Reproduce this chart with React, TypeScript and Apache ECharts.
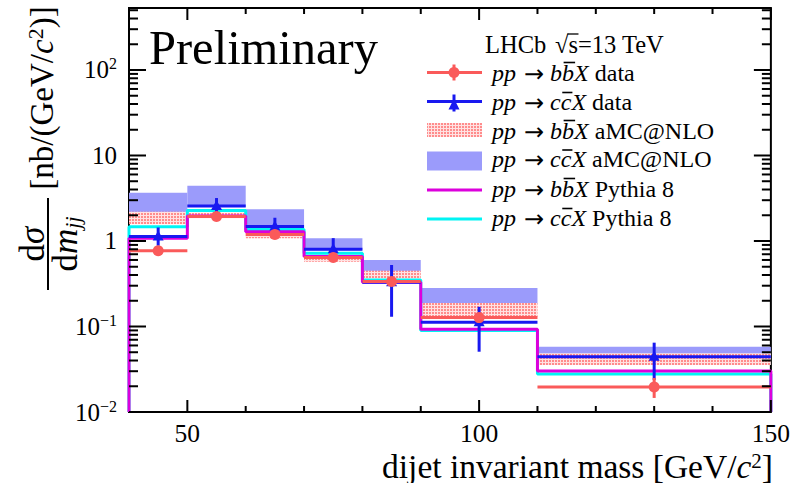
import React, { useEffect, useRef } from 'react';
import * as echarts from 'echarts';

const FONT = '"Liberation Serif", "Times New Roman", Times, serif';
const ARROW_FONT = '"DejaVu Sans", sans-serif';

// bin edges of the dijet invariant mass [GeV/c^2]
const binEdges = [40, 50, 60, 70, 80, 90, 110, 150];
// pp -> b bbar X data (central, low, high)
const bbData = [0.77, 1.94, 1.19, 0.64, 0.336, 0.127, 0.0196];
const bbDataLo = [0.71, 1.8, 1.1, 0.59, 0.3, 0.117, 0.0146];
const bbDataHi = [0.84, 2.1, 1.3, 0.7, 0.37, 0.138, 0.025];
// pp -> c cbar X data
const ccData = [1.13, 2.57, 1.48, 0.8, 0.33, 0.112, 0.0443];
const ccDataLo = [0.88, 2.1, 1.2, 0.62, 0.13, 0.0507, 0.0237];
const ccDataHi = [1.44, 3.18, 1.87, 1.08, 0.524, 0.17, 0.0647];
// aMC@NLO bands
const bbAmcLo = [1.57, 1.85, 1.08, 0.57, 0.366, 0.13, 0.0355];
const bbAmcHi = [2.2, 2.15, 1.26, 0.68, 0.45, 0.188, 0.0486];
const ccAmcLo = [2.1, 2.5, 1.45, 0.78, 0.44, 0.185, 0.047];
const ccAmcHi = [3.67, 4.43, 2.35, 1.08, 0.6, 0.282, 0.058];
// Pythia 8
const bbPythia = [1.08, 1.96, 1.28, 0.66, 0.33, 0.0927, 0.0302];
const ccPythia = [1.47, 2.27, 1.36, 0.72, 0.35, 0.09, 0.0278];

// axes
const X_MIN = 40;
const X_MAX = 150;
const Y_MIN = 0.01;
const Y_MAX = 531;
const xLabelValues = [50, 100, 150];
const xMajorTicks = [50, 100, 150];
const xMinorTicks = [60, 70, 80, 90, 110, 120, 130, 140];
const yLabelValues = [0.01, 0.1, 1, 10, 100];
const yLabelTexts = ['{b|10}{s|\u22122}', '{b|10}{s|\u22121}', '{b|1}', '{b|10}', '{b|10}{s|2}'];
const yMinorMantissas = [2, 3, 4, 5, 6, 7, 8, 9];

// legend
const legendQuarks = ['b', 'c', 'b', 'c', 'b', 'c'];
const legendSuffixes = ['data', 'data', 'aMC@NLO', 'aMC@NLO', 'Pythia 8', 'Pythia 8'];

const C_RED = '#fa5a5a';
const C_BLUE = '#1818f0';
const C_BAND = '#9b9bfb';
const C_MAG = '#dc00dc';
const C_CYAN = '#00f4f4';

function measure(font: string, text: string) {
  const c = document.createElement('canvas').getContext('2d')!;
  c.font = font;
  return c.measureText(text).width;
}

function makePattern() {
  const cv = document.createElement('canvas');
  cv.width = 3;
  cv.height = 3;
  const g = cv.getContext('2d')!;
  g.fillStyle = '#ffe2e2';
  g.fillRect(0, 0, 3, 3);
  g.fillStyle = '#ff8c8c';
  g.fillRect(0, 0, 2, 2);
  return { image: cv, repeat: 'repeat', imageWidth: 3, imageHeight: 3 } as any;
}

export default function App() {
  const ref = useRef<HTMLDivElement>(null);
  useEffect(() => {
    const chart = echarts.init(ref.current!, undefined, { renderer: 'svg' });
    const pattern = makePattern();

    const bandData = (lo: number[], hi: number[]) =>
      lo.map((l, i) => [binEdges[i], binEdges[i + 1], l, hi[i]]);
    const pointData = (v: number[], lo: number[], hi: number[]) =>
      v.map((c, i) => [binEdges[i], binEdges[i + 1], c, lo[i], hi[i]]);
    const stepData = (vals: number[]) => {
      const pts: number[][] = [[binEdges[0], Y_MIN]];
      vals.forEach((v, i) => {
        pts.push([binEdges[i], v]);
        pts.push([binEdges[i + 1], v]);
      });
      pts.push([binEdges[binEdges.length - 1], Y_MIN]);
      return pts;
    };

    const bandRender = (fill: any) => (params: any, api: any) => {
      const a = api.coord([api.value(0), api.value(3)]);
      const b = api.coord([api.value(1), api.value(2)]);
      return {
        type: 'rect',
        shape: { x: a[0], y: a[1], width: b[0] - a[0], height: b[1] - a[1] },
        style: { fill },
      };
    };

    const pointRender = (color: string, marker: 'circle' | 'triangle') => (params: any, api: any) => {
      const x0 = api.value(0);
      const x1 = api.value(1);
      const c = api.value(2);
      const lo = api.value(3);
      const hi = api.value(4);
      const xm = (x0 + x1) / 2;
      const pl = api.coord([x0, c]);
      const pr = api.coord([x1, c]);
      const pt = api.coord([xm, hi]);
      const pb = api.coord([xm, lo]);
      const pc = api.coord([xm, c]);
      const children: any[] = [
        { type: 'line', shape: { x1: pl[0], y1: pl[1], x2: pr[0], y2: pr[1] }, style: { stroke: color, lineWidth: 3 } },
        { type: 'line', shape: { x1: pt[0], y1: pt[1], x2: pb[0], y2: pb[1] }, style: { stroke: color, lineWidth: 3 } },
      ];
      if (marker === 'circle') {
        children.push({ type: 'circle', shape: { cx: pc[0], cy: pc[1], r: 5.5 }, style: { fill: color } });
      } else {
        children.push({
          type: 'polygon',
          shape: { points: [[pc[0], pc[1] - 6], [pc[0] - 5.5, pc[1] + 4], [pc[0] + 5.5, pc[1] + 4]] },
          style: { fill: color },
        });
      }
      return { type: 'group', children };
    };

    const tickData: number[][] = [];
    xMajorTicks.forEach((v) => tickData.push([v, Y_MIN, 0]));
    xMinorTicks.forEach((v) => tickData.push([v, Y_MIN, 1]));
    yLabelValues.forEach((v) => {
      tickData.push([X_MIN, v, 2]);
      yMinorMantissas.forEach((m) => {
        const t = m * v;
        if (t < Y_MAX) tickData.push([X_MIN, t, 3]);
      });
    });

    const tickRender = (params: any, api: any) => {
      const cs = params.coordSys;
      const kind = api.value(2);
      const p = api.coord([api.value(0), api.value(1)]);
      const st = { stroke: '#000', lineWidth: 2 };
      if (kind <= 1) {
        const L = kind === 0 ? 12 : 6;
        const yb = cs.y + cs.height;
        return {
          type: 'group',
          children: [
            { type: 'line', shape: { x1: p[0], y1: yb, x2: p[0], y2: yb - L }, style: st },
            { type: 'line', shape: { x1: p[0], y1: cs.y, x2: p[0], y2: cs.y + L }, style: st },
          ],
        };
      }
      const L = kind === 2 ? 17 : 9;
      const xr = cs.x + cs.width;
      return {
        type: 'group',
        children: [
          { type: 'line', shape: { x1: cs.x, y1: p[1], x2: cs.x + L, y2: p[1] }, style: st },
          { type: 'line', shape: { x1: xr, y1: p[1], x2: xr - L, y2: p[1] }, style: st },
        ],
      };
    };

    // ---------- graphic texts ----------
    const graphics: any[] = [];
    graphics.push({
      type: 'text', x: 149, y: 47,
      style: { text: 'Preliminary', font: `48.5px ${FONT}`, fill: '#000', align: 'left', verticalAlign: 'middle' },
    });
    const HFS = 24.5;
    const hFont = `${HFS}px ${FONT}`;
    graphics.push({
      type: 'text', x: 485, y: 44,
      style: { text: 'LHCb', font: hFont, fill: '#000', align: 'left', verticalAlign: 'middle' },
    });
    const sqrtX = 555;
    graphics.push({
      type: 'text', x: sqrtX, y: 44,
      style: { text: '\u221As=13 TeV', font: hFont, fill: '#000', align: 'left', verticalAlign: 'middle' },
    });
    const wSqrt = measure(hFont, '\u221A');
    const wS = measure(hFont, 's');
    graphics.push({
      type: 'line',
      shape: { x1: sqrtX + wSqrt - 1, y1: 44 - 10, x2: sqrtX + wSqrt + wS + 0.5, y2: 44 - 10 },
      style: { stroke: '#000', lineWidth: 1.3 },
    });

    const FS = 24;
    const rowY = [72.5, 101.5, 130.5, 159, 188.5, 217.5];
    const symX0 = 427;
    const symX1 = 482;
    const symXm = 454;
    rowY.forEach((y, i) => {
      // symbol
      if (i === 0) {
        graphics.push({ type: 'line', shape: { x1: symX0, y1: y, x2: symX1, y2: y }, style: { stroke: C_RED, lineWidth: 3 } });
        graphics.push({ type: 'line', shape: { x1: symXm, y1: y - 8, x2: symXm, y2: y + 8 }, style: { stroke: C_RED, lineWidth: 3 } });
        graphics.push({ type: 'circle', shape: { cx: symXm, cy: y, r: 5.5 }, style: { fill: C_RED } });
      } else if (i === 1) {
        graphics.push({ type: 'line', shape: { x1: symX0, y1: y, x2: symX1, y2: y }, style: { stroke: C_BLUE, lineWidth: 3 } });
        graphics.push({ type: 'line', shape: { x1: symXm, y1: y - 7, x2: symXm, y2: y + 10 }, style: { stroke: C_BLUE, lineWidth: 3 } });
        graphics.push({
          type: 'polygon',
          shape: { points: [[symXm, y - 3], [symXm - 5.5, y + 8], [symXm + 5.5, y + 8]] },
          style: { fill: C_BLUE },
        });
      } else if (i === 2) {
        graphics.push({ type: 'rect', shape: { x: symX0, y: y - 7.5, width: symX1 - symX0, height: 14 }, style: { fill: pattern } });
      } else if (i === 3) {
        graphics.push({ type: 'rect', shape: { x: symX0, y: y - 7.5, width: symX1 - symX0, height: 19 }, style: { fill: C_BAND } });
      } else if (i === 4) {
        graphics.push({ type: 'line', shape: { x1: symX0, y1: y + 1.5, x2: symX1, y2: y + 1.5 }, style: { stroke: C_MAG, lineWidth: 3 } });
      } else {
        graphics.push({ type: 'line', shape: { x1: symX0, y1: y + 1.5, x2: symX1, y2: y + 1.5 }, style: { stroke: C_CYAN, lineWidth: 3 } });
      }
      // text tokens: [text, font, overline, dx-after]
      const q = legendQuarks[i];
      const it = `italic ${FS}px ${FONT}`;
      const rm = `${FS}px ${FONT}`;
      const tokens: [string, string, boolean, number][] = [
        ['pp', it, false, 8],
        ['\u2192', `24px ${ARROW_FONT}`, false, 6],
        [q, it, false, 0],
        [q, it, true, 0],
        ['X', it, false, 0],
        [' ' + legendSuffixes[i], rm, false, 0],
      ];
      let x = 492;
      tokens.forEach(([t, f, bar, dx]) => {
        const w = measure(f, t);
        graphics.push({
          type: 'text', x, y: t === '\u2192' ? y + 1 : y,
          style: { text: t, font: f, fill: '#000', align: 'left', verticalAlign: 'middle' },
        });
        if (bar) {
          const by = y - (q === 'b' ? 10 : 9);
          graphics.push({
            type: 'line',
            shape: { x1: x + 1.5, y1: by, x2: x + w + 1, y2: by },
            style: { stroke: '#000', lineWidth: 1.6 },
          });
        }
        x += w + dx;
      });
    });

    // x-axis title
    graphics.push({
      type: 'text', x: 773, y: 466,
      style: {
        text: '{n|dijet invariant mass [GeV/}{i|c}{s|2}{n|]}',
        align: 'right', verticalAlign: 'middle',
        rich: {
          n: { fontFamily: FONT, fontSize: 33.5, color: '#000', lineHeight: 32 },
          i: { fontFamily: FONT, fontSize: 33.5, fontStyle: 'italic', color: '#000', lineHeight: 32 },
          s: { fontFamily: FONT, fontSize: 21, color: '#000', lineHeight: 20, verticalAlign: 'top' },
        },
      },
    });

    // y-axis title (rotated)
    const yRich = {
      n: { fontFamily: FONT, fontSize: 35, color: '#000', lineHeight: 36 },
      i: { fontFamily: FONT, fontSize: 35, fontStyle: 'italic', color: '#000', lineHeight: 36 },
      sub: { fontFamily: FONT, fontSize: 22, fontStyle: 'italic', color: '#000', lineHeight: 22, verticalAlign: 'bottom' },
      sup: { fontFamily: FONT, fontSize: 22, color: '#000', lineHeight: 22, verticalAlign: 'top' },
      b: { fontFamily: FONT, fontSize: 33, color: '#000', lineHeight: 36 },
      bi: { fontFamily: FONT, fontSize: 33, fontStyle: 'italic', color: '#000', lineHeight: 36 },
    };
    graphics.push({
      type: 'group', x: 48, y: 244, rotation: Math.PI / 2,
      children: [
        { type: 'text', x: 0, y: -16, style: { text: '{n|d}{i|\u03C3}', rich: yRich, align: 'center', verticalAlign: 'middle' } },
        { type: 'line', shape: { x1: -46, y1: 0, x2: 46, y2: 0 }, style: { stroke: '#000', lineWidth: 2 } },
        { type: 'text', x: 0, y: 17, style: { text: '{n|d}{i|m}{sub|jj}', rich: yRich, align: 'center', verticalAlign: 'middle' } },
        { type: 'text', x: 146, y: -6, style: { text: '{b|[nb/(GeV/}{bi|c}{sup|2}{b|)]}', rich: yRich, align: 'center', verticalAlign: 'middle' } },
      ],
    });

    const option: any = {
      animation: false,
      backgroundColor: '#fff',
      grid: { left: 129, top: 8, width: 644, height: 404, show: true, borderColor: '#000', borderWidth: 2, backgroundColor: 'transparent' },
      xAxis: {
        type: 'value', min: X_MIN, max: X_MAX, interval: 10,
        axisLine: { show: false }, axisTick: { show: false }, splitLine: { show: false },
        axisLabel: {
          margin: 9, fontFamily: FONT, fontSize: 25.5, color: '#000', lineHeight: 24,
          formatter: (v: number) => (xLabelValues.indexOf(Math.round(v)) >= 0 ? String(Math.round(v)) : ''),
        },
      },
      yAxis: {
        type: 'log', logBase: 10, min: Y_MIN, max: Y_MAX,
        axisLine: { show: false }, axisTick: { show: false }, splitLine: { show: false },
        axisLabel: {
          margin: 12, showMaxLabel: false,
          formatter: (v: number) => {
            for (let k = 0; k < yLabelValues.length; k++) {
              if (Math.abs(Math.log10(v) - Math.log10(yLabelValues[k])) < 1e-6) return yLabelTexts[k];
            }
            return '';
          },
          rich: {
            b: { fontFamily: FONT, fontSize: 25, color: '#000', lineHeight: 28 },
            s: { fontFamily: FONT, fontSize: 16, color: '#000', lineHeight: 16, verticalAlign: 'top' },
          },
        },
      },
      series: [
        { type: 'custom', name: 'ccAmc', renderItem: bandRender(C_BAND), data: bandData(ccAmcLo, ccAmcHi), encode: { x: [0, 1], y: [2, 3] }, z: 2 },
        { type: 'custom', name: 'bbAmc', renderItem: bandRender(pattern), data: bandData(bbAmcLo, bbAmcHi), encode: { x: [0, 1], y: [2, 3] }, z: 2 },
        { type: 'line', name: 'ccPythia', data: stepData(ccPythia), showSymbol: false, symbol: 'none', lineStyle: { color: C_CYAN, width: 3 }, itemStyle: { color: C_CYAN }, z: 3 },
        { type: 'line', name: 'bbPythia', data: stepData(bbPythia), showSymbol: false, symbol: 'none', lineStyle: { color: C_MAG, width: 3 }, itemStyle: { color: C_MAG }, z: 3 },
        { type: 'custom', name: 'ccData', renderItem: pointRender(C_BLUE, 'triangle'), data: pointData(ccData, ccDataLo, ccDataHi), encode: { x: [0, 1], y: [2, 3, 4] }, z: 4 },
        { type: 'custom', name: 'bbData', renderItem: pointRender(C_RED, 'circle'), data: pointData(bbData, bbDataLo, bbDataHi), encode: { x: [0, 1], y: [2, 3, 4] }, z: 5 },
        { type: 'custom', name: 'ticks', renderItem: tickRender, data: tickData, encode: { x: 0, y: 1 }, z: 6, silent: true },
      ],
      graphic: { elements: graphics },
    };
    chart.setOption(option);
    return () => chart.dispose();
  }, []);
  return (
    <div
      ref={ref}
      style={{ position: 'fixed', left: 0, top: 0, width: 793, height: 483, background: '#fff' }}
    />
  );
}
